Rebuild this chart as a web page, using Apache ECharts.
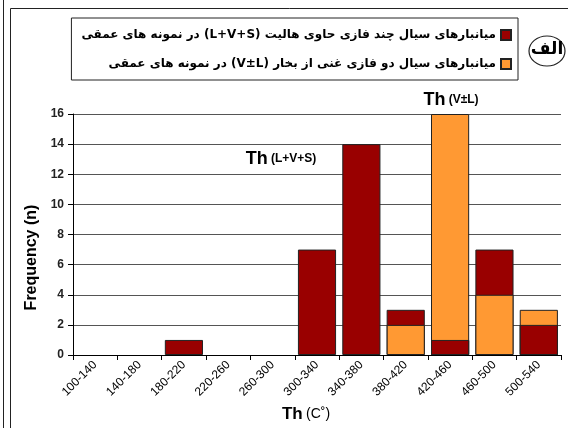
<!DOCTYPE html>
<html>
<head>
<meta charset="utf-8">
<script src="https://cdn.jsdelivr.net/npm/echarts@6/dist/echarts.min.js"></script>
<style>
  html, body { margin: 0; padding: 0; background: #fff; }
  #main { width: 568px; height: 428px; }
</style>
</head>
<body>
<div id="main"></div>
<script>
const categories = ["100-140", "140-180", "180-220", "220-260", "260-300", "300-340",
  "340-380", "380-420", "420-460", "460-500", "500-540"];
// L+V+S inclusions (dark red) and V±L inclusions (orange)
const lvsCounts = [0, 0, 1, 0, 0, 7, 14, 3, 1, 7, 2];
const vlCounts = [0, 0, 0, 0, 0, 0, 0, 2, 16, 4, 3];
const yTicks = [0, 2, 4, 6, 8, 10, 12, 14, 16];

const RLE = "\u202B", PDF = "\u202C";
const lvsName = RLE + "میانبارهای سیال چند فازی حاوی هالیت (L+V+S) در نمونه های عمقی" + PDF;
const vlName = RLE + "میانبارهای سیال دو فازی غنی از بخار (V±L) در نمونه های عمقی" + PDF;

const RED = "#990000";
const ORANGE = "#ff9933";

// empty classes draw nothing
const nz = v => (v > 0 ? v : "-");
// bars overlap; the shorter one is drawn in front
const lvsFront = lvsCounts.map((v, i) => (v > 0 && v <= vlCounts[i] ? v : "-"));

const chart = echarts.init(document.getElementById("main"));

const barBase = {
  type: "bar",
  barGap: "-100%",
  barCategoryGap: "14%",
  itemStyle: { borderColor: "#222", borderWidth: 1 }
};

const option = {
  animation: false,
  grid: { left: 73, right: 7, top: 114, bottom: 73 },
  legend: {
    data: [lvsName, vlName],
    orient: "vertical",
    align: "right",
    right: 50,
    top: 18,
    itemWidth: 10,
    itemHeight: 10,
    itemGap: 17,
    padding: [11, 6, 10, 10],
    borderColor: "#222",
    borderWidth: 1,
    icon: "rect",
    textStyle: { fontFamily: "DejaVu Sans", fontWeight: "bold", fontSize: 12, color: "#000" }
  },
  xAxis: {
    type: "category",
    data: categories,
    name: "{a|Th} {b|(C˚)}",
    nameLocation: "middle",
    nameGap: 48,
    nameTextStyle: {
      padding: [0, 22, 0, 0],
      rich: {
        a: { fontFamily: "Liberation Sans", fontSize: 17, fontWeight: "bold", color: "#000" },
        b: { fontFamily: "Liberation Sans", fontSize: 14, color: "#000" }
      }
    },
    axisLine: { lineStyle: { color: "#000", width: 1 } },
    axisTick: { show: true, length: 5, lineStyle: { color: "#000" } },
    axisLabel: { rotate: 45, fontFamily: "Liberation Sans", fontSize: 12, color: "#000", margin: 8 }
  },
  yAxis: {
    type: "value",
    min: yTicks[0],
    max: yTicks[yTicks.length - 1],
    interval: 2,
    name: "Frequency (n)",
    nameLocation: "middle",
    nameGap: 32,
    nameTextStyle: {
      fontFamily: "Liberation Sans", fontSize: 16, fontWeight: "bold", color: "#000",
      padding: [0, 46, 0, 0]
    },
    axisLine: { show: true, lineStyle: { color: "#000", width: 1 } },
    axisTick: { show: true, length: 5, lineStyle: { color: "#000" } },
    axisLabel: { fontFamily: "Liberation Sans", fontSize: 12, fontWeight: "bold", color: "#222", margin: 9 },
    splitLine: { lineStyle: { color: "#555", width: 1 } }
  },
  series: [
    Object.assign({}, barBase, { name: lvsName, data: lvsCounts.map(nz), color: RED }),
    Object.assign({}, barBase, { name: vlName, data: vlCounts.map(nz), color: ORANGE }),
    Object.assign({}, barBase, { name: "front", data: lvsFront, color: RED })
  ],
  graphic: [
    // page frame
    { type: "line", shape: { x1: 3.5, y1: 0, x2: 3.5, y2: 428 }, style: { stroke: "#222", lineWidth: 1 } },
    { type: "line", shape: { x1: 10.5, y1: 8.5, x2: 10.5, y2: 428 }, style: { stroke: "#222", lineWidth: 1 } },
    { type: "line", shape: { x1: 10.5, y1: 8.5, x2: 568, y2: 8.5 }, style: { stroke: "#222", lineWidth: 1 } },
    // panel label
    { type: "ellipse", shape: { cx: 547, cy: 51, rx: 18, ry: 15 }, style: { fill: "#fff", stroke: "#222", lineWidth: 1.2 } },
    {
      type: "text", x: 547, y: 50,
      style: { text: "الف", align: "center", verticalAlign: "middle",
        fontFamily: "DejaVu Sans", fontWeight: "bold", fontSize: 17, fill: "#000" }
    },
    // homogenization temperature annotations
    {
      type: "text", x: 281, y: 159,
      style: {
        text: "{a|Th} {b|(L+V+S)}", align: "center", verticalAlign: "middle",
        rich: {
          a: { fontFamily: "Liberation Sans", fontSize: 18, fontWeight: "bold", fill: "#000" },
          b: { fontFamily: "Liberation Sans", fontSize: 12, fontWeight: "bold", fill: "#000" }
        }
      }
    },
    {
      type: "text", x: 451, y: 100,
      style: {
        text: "{a|Th} {b|(V±L)}", align: "center", verticalAlign: "middle",
        rich: {
          a: { fontFamily: "Liberation Sans", fontSize: 18, fontWeight: "bold", fill: "#000" },
          b: { fontFamily: "Liberation Sans", fontSize: 12, fontWeight: "bold", fill: "#000" }
        }
      }
    }
  ]
};

chart.setOption(option);
</script>
</body>
</html>
